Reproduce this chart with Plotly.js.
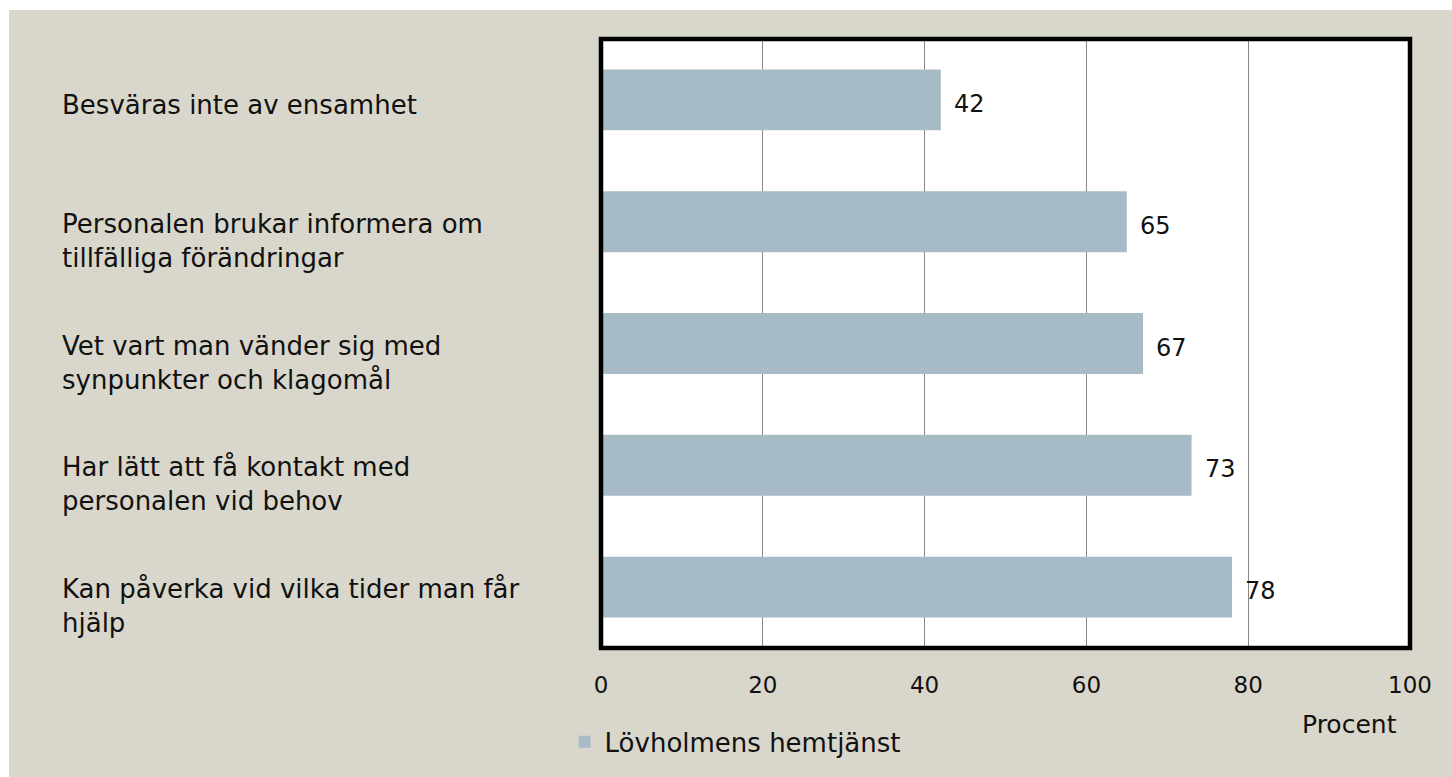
<!DOCTYPE html>
<html>
<head>
<meta charset="utf-8">
<script src="https://cdn.plot.ly/plotly-3.0.1.min.js"></script>
<style>
html,body{margin:0;padding:0;background:#ffffff;width:1452px;height:777px;overflow:hidden;}
#chart{position:absolute;left:9px;top:10px;width:1443px;height:767px;}
</style>
</head>
<body>
<div id="chart"></div>
<script>
const categories = [
  "Besväras inte av ensamhet",
  "Personalen brukar informera om<br>tillfälliga förändringar",
  "Vet vart man vänder sig med<br>synpunkter och klagomål",
  "Har lätt att få kontakt med<br>personalen vid behov",
  "Kan påverka vid vilka tider man får<br>hjälp"
];
const values = [42, 65, 67, 73, 78];
const seriesName = "Lövholmens hemtjänst";
const tickValues = [0, 20, 40, 60, 80, 100];
const axisLabel = "Procent";

const FONT = "DejaVu Sans, Verdana, sans-serif";
const barColor = "#A7BBC6";
const bg = "#D9D7CB";

const trace = {
  type: "bar",
  orientation: "h",
  y: categories,
  x: values,
  name: seriesName,
  width: 0.5,
  marker: {color: barColor, line: {width: 0}},
  hoverinfo: "skip",
  showlegend: true
};

const annotations = [];
categories.forEach((c, i) => {
  const lines = c.split("<br>").length;
  annotations.push({
    xref: "paper", yref: "y",
    x: -0.669, y: c,
    xanchor: "left", yanchor: "middle", align: "left",
    text: c, showarrow: false,
    yshift: -(5 + (lines - 1) * 14),
    font: {family: FONT, size: 26, color: "#111111"}
  });
  annotations.push({
    xref: "x", yref: "y",
    x: values[i], y: c,
    xanchor: "left", yanchor: "middle",
    text: String(values[i]), showarrow: false,
    xshift: 11, yshift: -4,
    font: {family: FONT, size: 24, color: "#111111"}
  });
});
annotations.push({
  xref: "paper", yref: "paper",
  x: 0.925, y: -0.126,
  xanchor: "center", yanchor: "middle",
  text: axisLabel, showarrow: false,
  font: {family: FONT, size: 25, color: "#111111"}
});

const layout = {
  width: 1443, height: 767,
  margin: {l: 592, r: 42, t: 29, b: 127},
  paper_bgcolor: bg,
  plot_bgcolor: "#ffffff",
  showlegend: true,
  legend: {
    orientation: "h",
    x: -0.045, xanchor: "left",
    y: -0.154, yanchor: "middle",
    bgcolor: "rgba(0,0,0,0)",
    font: {family: FONT, size: 26, color: "#111111"},
    itemclick: false
  },
  xaxis: {
    range: [0, 100],
    tickvals: tickValues,
    ticktext: tickValues.map(String),
    showgrid: true,
    gridcolor: "#888888",
    gridwidth: 1.3,
    zeroline: false,
    showline: false,
    ticks: "",
    ticklabelstandoff: 21,
    tickfont: {family: FONT, size: 23, color: "#111111"},
    fixedrange: true
  },
  yaxis: {
    type: "category",
    categoryorder: "array",
    categoryarray: categories,
    autorange: "reversed",
    showticklabels: false,
    showgrid: false,
    zeroline: false,
    showline: false,
    ticks: "",
    fixedrange: true
  },
  shapes: [{
    type: "rect", xref: "paper", yref: "paper",
    x0: 0, x1: 1, y0: 0, y1: 1,
    line: {color: "#000000", width: 4.5},
    fillcolor: "rgba(0,0,0,0)",
    layer: "above"
  }],
  annotations: annotations,
  bargap: 0.5
};

Plotly.newPlot("chart", [trace], layout, {displayModeBar: false, staticPlot: true});
</script>
</body>
</html>
